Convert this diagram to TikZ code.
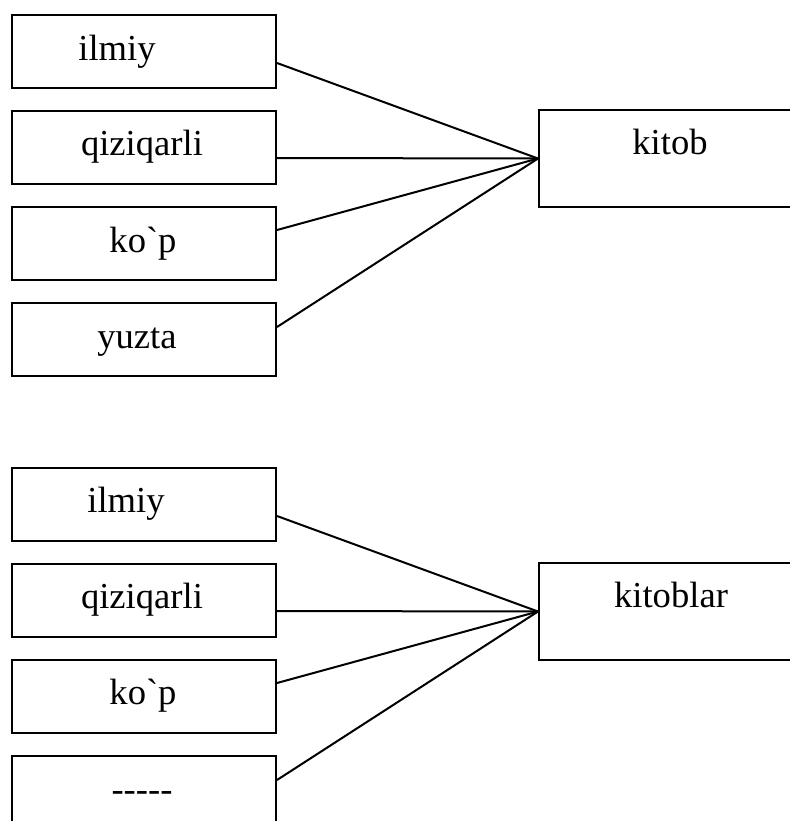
\documentclass[tikz,border=0pt]{standalone}
\usepackage{fontspec}
\setmainfont{Liberation Serif}
\begin{document}
\begin{tikzpicture}[x=0.5pt,y=-0.5pt,
  box/.style={draw,line width=1pt,minimum width=132pt,minimum height=36.5pt,inner sep=0pt,anchor=north west},
  lbl/.style={anchor=base,font=\fontsize{18.3}{22}\selectfont,inner sep=0pt},
  link/.style={line width=1pt}]
\clip (0,0) rectangle (790,821);
% top group
\node[box] (a1) at (11,14) {};
\node[box] (a2) at (11,110) {};
\node[box] (a3) at (11,206) {};
\node[box] (a4) at (11,302) {};
\node[box,minimum height=48.5pt] (k) at (538,109) {};
\node[lbl] (ta1) at (117,60) {ilmiy};
\node[lbl] (ta2) at (142,155) {qiziqarli};
\node[lbl] (ta3) at (143,252) {ko\textasciigrave p};
\node[lbl] (ta4) at (137,348) {yuzta};
\node[lbl] (tk) at (670,154) {kitob};
\draw[link] ([yshift=-5.75pt]a1.east) -- (k.west);
\draw[link] ([yshift=-5.25pt]a2.east) -- (k.west);
\draw[link] ([yshift=6.75pt]a3.east) -- (k.west);
\draw[link] ([yshift=6.25pt]a4.east) -- (k.west);
% bottom group
\node[box] (b1) at (11,467) {};
\node[box] (b2) at (11,563) {};
\node[box] (b3) at (11,659) {};
\node[box] (b4) at (11,755) {};
\node[box,minimum height=48.5pt] (kb) at (538,562) {};
\node[lbl] (tb1) at (126,512) {ilmiy};
\node[lbl] (tb2) at (142,608) {qiziqarli};
\node[lbl] (tb3) at (143,704) {ko\textasciigrave p};
\node[lbl] (tb4) at (142,801) {-{}-{}-{}-{}-};
\node[lbl] (tkb) at (671,607) {kitoblar};
\draw[link] ([yshift=-5.75pt]b1.east) -- (kb.west);
\draw[link] ([yshift=-5.25pt]b2.east) -- (kb.west);
\draw[link] ([yshift=6.75pt]b3.east) -- (kb.west);
\draw[link] ([yshift=6.25pt]b4.east) -- (kb.west);
\end{tikzpicture}
\end{document}
